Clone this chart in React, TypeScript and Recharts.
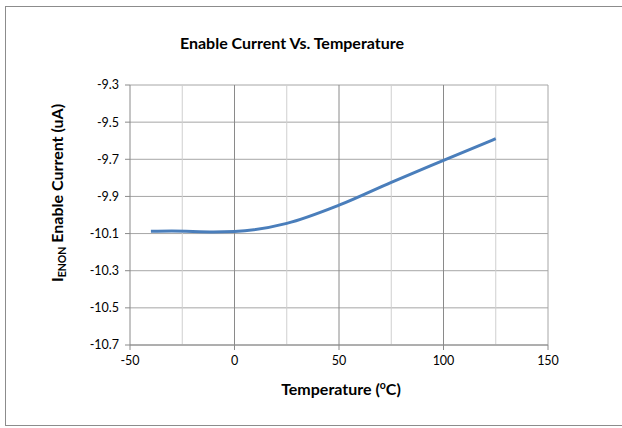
import React from 'react';
import {
  LineChart,
  Line,
  XAxis,
  YAxis,
  CartesianGrid,
  ReferenceLine,
} from 'recharts';

// ---------------------------------------------------------------------------
// Data
// ---------------------------------------------------------------------------

const temperatures = [-40, -30, -10, 0, 25, 50, 75, 100, 125];
const enableCurrent = [-10.088, -10.086, -10.091, -10.089, -10.045, -9.947, -9.824, -9.706, -9.589];

const xTicks = [-50, 0, 50, 100, 150];
const yTicks = [-10.7, -10.5, -10.3, -10.1, -9.9, -9.7, -9.5, -9.3];

// vertical gridlines: major at the labelled ticks, minor in between
const majorGridX = [0, 50, 100];
const minorGridX = [-25, 25, 75, 125];

const data = temperatures.map((t, i) => ({ temp: t, current: enableCurrent[i] }));

const FONT = 'Lato, "Noto Sans", sans-serif';

if (typeof document !== 'undefined') {
  document.body.style.margin = '0';
}

export default function App() {
  return (
    <div style={{ position: 'relative', width: 622, height: 428, background: '#fff', fontFamily: FONT }}>
      {/* outer chart border */}
      <div
        style={{
          position: 'absolute',
          left: 5,
          top: 6,
          width: 620,
          height: 420,
          border: '1px solid #8c8c8c',
          borderRight: 'none',
          boxSizing: 'border-box',
        }}
      />
      <div style={{ position: 'absolute', left: 0, top: 0 }}>
        <LineChart width={622} height={428} data={data} margin={{ top: 85, right: 74, bottom: 53, left: 60 }}>
          <CartesianGrid vertical={false} stroke="#a6a6a6" />
          {minorGridX.map((x) => (
            <ReferenceLine key={`minor-${x}`} x={x} stroke="#cfcfcf" />
          ))}
          {majorGridX.map((x) => (
            <ReferenceLine key={`major-${x}`} x={x} stroke="#8a8a8a" />
          ))}
          <ReferenceLine x={150} stroke="#a6a6a6" />
          <XAxis
            dataKey="temp"
            type="number"
            domain={[-50, 150]}
            ticks={xTicks}
            height={30}
            stroke="#8a8a8a"
            tickSize={5}
            tick={{ fill: '#000', fontSize: 12.5, fontFamily: FONT }}
            tickMargin={6}
            allowDataOverflow
          />
          <YAxis
            type="number"
            domain={[-10.7, -9.3]}
            ticks={yTicks}
            width={70}
            stroke="#8a8a8a"
            tickSize={5}
            tickMargin={6}
            tickFormatter={(v: number) => v.toFixed(1)}
            tick={{ fill: '#000', fontSize: 12.5, fontFamily: FONT }}
            allowDataOverflow
          />
          <Line
            dataKey="current"
            type="monotone"
            stroke="#4a7ebb"
            strokeWidth={3}
            dot={false}
            isAnimationActive={false}
          />
        </LineChart>
      </div>
      {/* titles */}
      <svg width={622} height={428} style={{ position: 'absolute', left: 0, top: 0, pointerEvents: 'none' }}>
        <text x={292} y={49} textAnchor="middle" fontFamily={FONT} fontWeight="bold" fontSize={16} fill="#000">
          Enable Current Vs. Temperature
        </text>
        <text
          transform="translate(63,193) rotate(-90)"
          textAnchor="middle"
          fontFamily={FONT}
          fontWeight="bold"
          fontSize={16}
          fill="#000"
        >
          I
          <tspan fontSize={10.5} dy={3}>ENON</tspan>
          <tspan dy={-3}> Enable Current (uA)</tspan>
        </text>
        <text x={341} y={395} textAnchor="middle" fontFamily={FONT} fontWeight="bold" fontSize={16} fill="#000">
          Temperature (
          <tspan fontSize={10.5} dy={-6}>o</tspan>
          <tspan dy={6}>C)</tspan>
        </text>
      </svg>
    </div>
  );
}
